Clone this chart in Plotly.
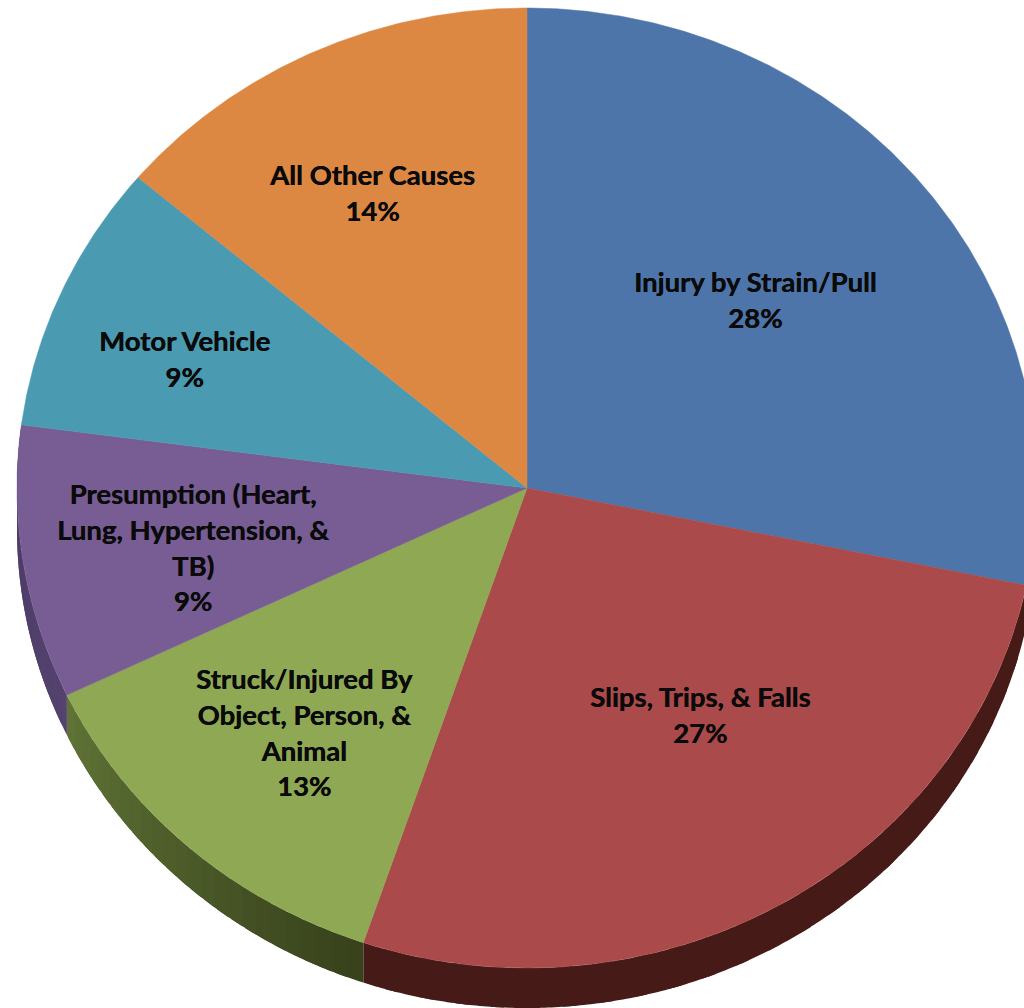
import numpy as np
import plotly.graph_objects as go

categories = ['Injury by Strain/Pull', 'Slips, Trips, & Falls', 'Struck/Injured By Object, Person, & Animal',
              'Presumption (Heart, Lung, Hypertension, & TB)', 'Motor Vehicle', 'All Other Causes']
shares = [28.25, 26.95, 12.7, 9.2, 9.1, 13.8]
wrapped_labels = ['Injury by Strain/Pull', 'Slips, Trips, &amp; Falls', 'Struck/Injured By<br>Object, Person, &amp;<br>Animal',
                  'Presumption (Heart,<br>Lung, Hypertension, &amp;<br>TB)', 'Motor Vehicle', 'All Other Causes']

face_colors = ['#4e75a9', '#ab4a4a', '#8fa854', '#785d94', '#4a9ab1', '#dc8843']
# Seitenwand: Farbe am Anfang und Ende des Bogens (None = Seite nicht sichtbar)
side_colors = [None, ('#461b17', '#461b17'), ('#38421c', '#5f7336'), ('#54426f', '#4c3a66'), None, None]

# Pixelmitte der Beschriftungen
label_px = [(755, 299), (700, 714), (304, 732), (193, 547), (184, 358), (372, 192)]

WIDTH, HEIGHT = 1024, 1008
CX, CY, RX, RY = 527, 488, 510, 480
DEPTH = 40 / RY


def arc(start, end):
    t = np.radians(np.linspace(start, end, max(int(end - start) * 3, 6)))
    return np.sin(t), np.cos(t)


fig = go.Figure()

edges = np.cumsum([0] + shares) / sum(shares) * 360

# Seitenwände zuerst, Deckfläche darüber
for i, name in enumerate(categories):
    if side_colors[i] is None:
        continue
    c0, c1 = side_colors[i]
    rgb0 = np.array([int(c0[k:k + 2], 16) for k in (1, 3, 5)])
    rgb1 = np.array([int(c1[k:k + 2], 16) for k in (1, 3, 5)])
    steps = np.linspace(edges[i], edges[i + 1], 25)
    for j in range(len(steps) - 1):
        # Streifen leicht überlappen, sonst sieht man Nähte
        x, y = arc(steps[j], min(steps[j + 1] + 1.5, edges[i + 1]))
        f = j / (len(steps) - 2)
        col = 'rgb(%d,%d,%d)' % tuple(rgb0 + (rgb1 - rgb0) * f)
        fig.add_trace(go.Scatter(x=np.r_[x, x[::-1]], y=np.r_[y, y[::-1] - DEPTH], mode='none', fill='toself',
                                 fillcolor=col, hoverinfo='skip', showlegend=False))

for i, name in enumerate(categories):
    x, y = arc(edges[i], edges[i + 1])
    fig.add_trace(go.Scatter(x=np.r_[0, x, 0], y=np.r_[0, y, 0], mode='lines', fill='toself', name=name,
                             fillcolor=face_colors[i], line=dict(color=face_colors[i], width=0.5),
                             text=f'{name}: {shares[i]:.0f}%', hoverinfo='text', showlegend=False))

for label, share, (px, py) in zip(wrapped_labels, shares, label_px):
    fig.add_annotation(x=px / WIDTH, y=1 - py / HEIGHT, xref='paper', yref='paper',
                       xanchor='center', yanchor='middle', text=f'{label}<br>{share:.0f}%',
                       showarrow=False, align='center',
                       font=dict(family='Lato', size=27.5, color='#0a0a0a', weight='bold', shadow='0.4px 0 0.3px #0a0a0a'))

fig.update_layout(width=WIDTH, height=HEIGHT, margin=dict(l=0, r=0, t=0, b=0),
                  paper_bgcolor='white', plot_bgcolor='white',
                  xaxis=dict(range=[-CX / RX, (WIDTH - CX) / RX], visible=False),
                  yaxis=dict(range=[(CY - HEIGHT) / RY, CY / RY], visible=False))

# Standardrand der Seite entfernen, damit die Figur das ganze Fenster füllt
fig.write_html('out.html', config=dict(displayModeBar=False), default_width=f'{WIDTH}px', default_height=f'{HEIGHT}px',
               post_script="document.body.style.margin='0';document.documentElement.style.overflow='hidden';")
